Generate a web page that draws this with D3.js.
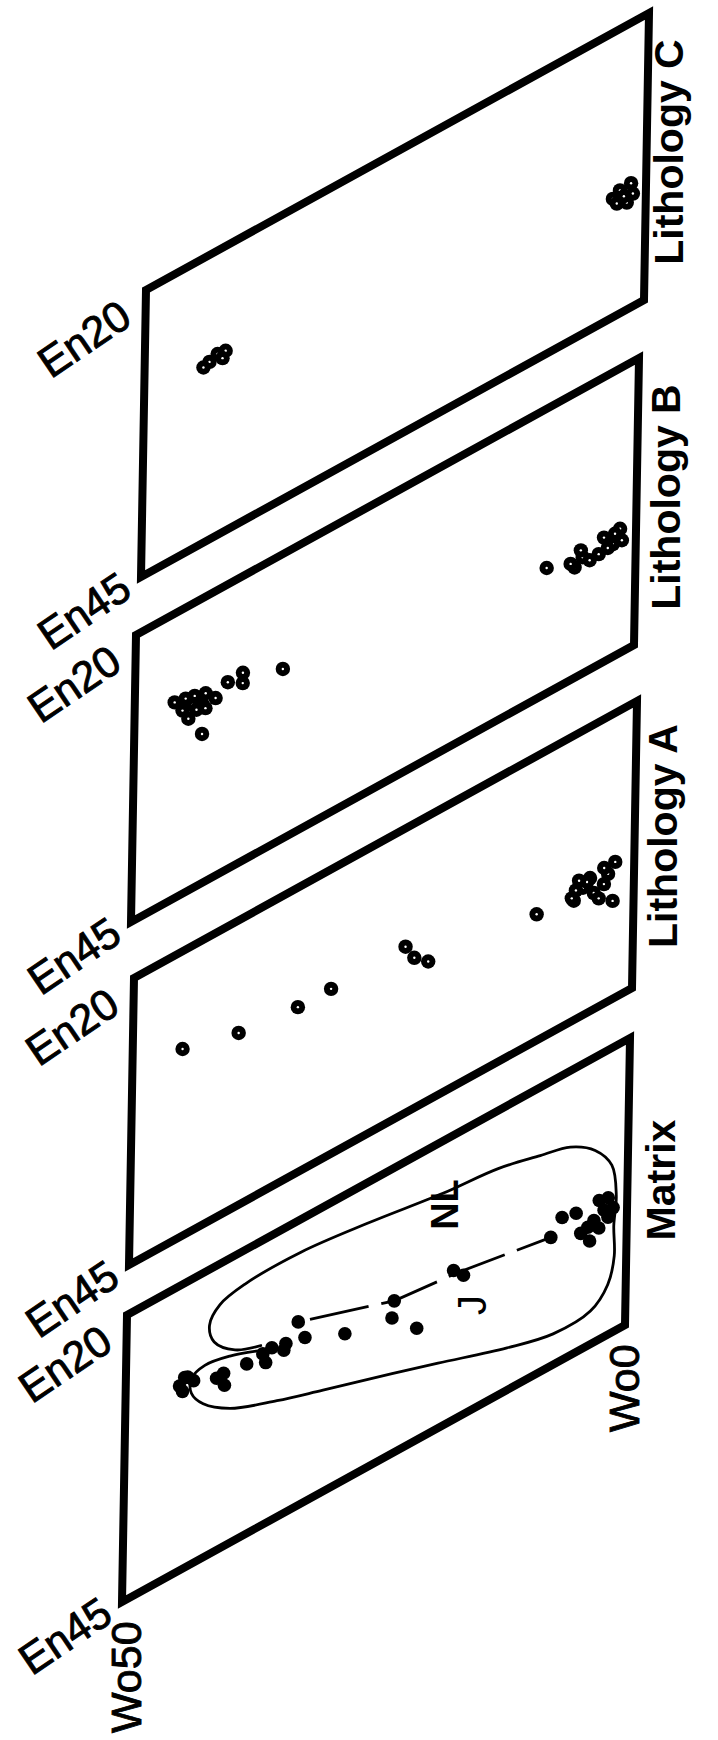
<!DOCTYPE html>
<html>
<head>
<meta charset="utf-8">
<script src="https://cdn.jsdelivr.net/npm/d3@7"></script>
<style>
  body { margin: 0; background: #fff; }
  text { font-family: "Liberation Sans", Arial, Helvetica, sans-serif; fill: #000; }
</style>
</head>
<body>
<script>
// Panel names, top to bottom
const panelNames = ["Lithology C", "Lithology B", "Lithology A", "Matrix"];

// Corner tick labels
const enTicks = ["En20", "En45"];
const woTicks = ["Wo50", "Wo0"];

// Pyroxene compositions, as [Wo, En]
const lithCPoints = [
  [41.9, 29.2], [42.7, 29.1], [43.5, 29.4], [44.1, 29.6], [42.2, 29.7],
  [1.5, 34.1], [2.6, 34.2], [3.3, 34.6], [1.9, 35.6], [2.9, 35.2], [1.3, 35.1], [2.2, 34.9]
];

const lithBPoints = [
  [43.2, 31.9], [35.2, 30.1], [39.2, 28.5], [39.2, 29.4], [40.7, 28.6],
  [46.0, 27.8], [44.9, 28.0], [44.0, 28.2], [42.9, 28.5], [41.9, 29.4], [43.2, 29.3],
  [44.2, 28.9], [45.2, 28.9], [44.6, 29.9], [42.9, 29.8], [43.8, 29.5],
  [8.9, 34.0], [6.1, 35.3], [5.3, 34.8], [5.5, 34.1], [3.7, 35.3], [3.2, 34.1],
  [2.3, 35.1], [1.6, 34.1], [1.4, 35.2], [2.8, 35.2], [2.1, 34.3], [6.5, 34.8], [4.6, 35.4]
];

const lithAPoints = [
  [45.0, 28.6], [39.4, 29.9], [33.5, 30.5], [30.2, 30.5],
  [22.8, 30.4], [21.9, 31.8], [20.5, 32.8], [9.7, 33.9],
  [1.9, 33.1], [2.1, 36.4], [6.0, 34.5], [4.4, 33.3], [5.1, 33.8], [3.0, 34.5],
  [2.6, 33.8], [5.8, 33.7], [4.0, 34.8], [3.5, 35.5], [4.7, 33.5], [3.0, 33.1],
  [6.2, 34.2], [5.5, 33.0]
];

const matrixPoints = [
  [17.3, 31.9], [16.3, 32.8], [23.2, 31.7], [23.4, 33.1], [20.9, 35.2], [28.1, 32.2],
  [32.8, 28.9], [32.1, 30.6], [34.0, 30.2], [34.2, 30.7], [35.4, 29.9], [36.3, 30.0],
  [36.0, 30.9], [37.9, 30.1], [40.2, 29.8], [40.9, 29.9], [40.1, 30.9], [44.1, 28.3],
  [44.6, 28.8], [43.2, 29.0], [43.8, 28.4], [44.3, 29.4],
  [7.6, 33.7], [6.5, 32.5], [5.1, 32.8], [2.8, 32.8], [1.9, 33.0], [2.3, 33.9],
  [3.3, 34.3], [4.6, 34.8], [3.7, 35.9], [2.8, 35.2], [1.9, 34.7], [1.4, 34.1], [3.9, 34.6]
];

// Trend line through the matrix analyses
const matrixTrend = [[32.8, 28.9], [23.2, 31.7], [16.8, 32.3], [7.6, 33.7]];

// Outline of the matrix field
const matrixField = [
  [36.8, 29.5], [39.6, 28.6], [42.1, 28.2], [43.4, 28.7], [43.4, 30.0], [42.2, 31.5],
  [39.5, 33.2], [34.8, 34.8], [30.2, 36.1], [23.3, 38.0], [18.7, 39.3], [11.8, 41.3],
  [7.2, 42.3], [3.5, 42.1], [1.8, 40.6], [1.2, 38.4], [1.3, 35.7], [1.1, 33.2],
  [1.6, 30.3], [3.3, 28.2], [5.8, 26.7], [8.8, 26.0], [13.0, 25.1], [18.5, 24.6],
  [25.9, 23.6], [32.7, 22.9], [38.2, 23.0], [40.7, 23.6], [41.7, 24.9], [41.2, 26.6],
  [39.1, 28.3], [36.4, 29.2]
];

// Field labels inside the matrix panel, as [Wo, En]
const matrixLabels = [
  { text: "NL", wo: 17.0, en: 26.3, bold: true },
  { text: "J", wo: 14.0, en: 36.5, bold: false }
];

// Layout: top-left corner (Wo50, En20) of each panel and its title position
const layout = [
  { x0: 146, y0: 290, titleX: 683, titleY: 152 },
  { x0: 136, y0: 635, titleX: 680, titleY: 497 },
  { x0: 134, y0: 978, titleX: 677, titleY: 836 },
  { x0: 127, y0: 1315, titleX: 675, titleY: 1180 }
];
const ex = [503, -277];  // Wo50 -> Wo0
const ey = [-5, 287];    // En20 -> En45

const width = 718, height = 1740;

const woScale = d3.scaleLinear().domain([50, 0]).range([0, 1]);
const enScale = d3.scaleLinear().domain([20, 45]).range([0, 1]);

function project(p, wo, en) {
  const u = woScale(wo), v = enScale(en);
  return [p.x0 + u * ex[0] + v * ey[0], p.y0 + u * ex[1] + v * ey[1]];
}

const svg = d3.select("body").append("svg")
  .attr("width", width)
  .attr("height", height);

const pointSets = [lithCPoints, lithBPoints, lithAPoints, matrixPoints];

// thin outline on tick text so it reads as heavy as the scanned figure
function tickText(sel, size) {
  return sel.attr("font-size", size)
    .attr("stroke", "#000")
    .attr("stroke-width", 0.9);
}

panelNames.forEach((name, i) => {
  const p = layout[i];
  const g = svg.append("g");
  const isMatrix = name === "Matrix";

  // Frame
  const corners = [[50, 20], [0, 20], [0, 45], [50, 45]].map(c => project(p, c[0], c[1]));
  g.append("path")
    .attr("d", d3.line()(corners) + "Z")
    .attr("fill", "none")
    .attr("stroke", "#000")
    .attr("stroke-width", 8)
    .attr("stroke-linejoin", "miter");

  if (isMatrix) {
    g.append("path")
      .attr("d", d3.line().curve(d3.curveCatmullRom.alpha(0.5))(matrixField.map(d => project(p, d[0], d[1]))))
      .attr("fill", "none")
      .attr("stroke", "#000")
      .attr("stroke-width", 2.8);

    g.append("path")
      .attr("d", d3.line()(matrixTrend.map(d => project(p, d[0], d[1]))))
      .attr("fill", "none")
      .attr("stroke", "#000")
      .attr("stroke-width", 2.8)
      .attr("stroke-dasharray", "60,13")
      .attr("stroke-dashoffset", -12);

    g.selectAll("circle.dot")
      .data(matrixPoints)
      .enter().append("circle")
      .attr("class", "dot")
      .attr("cx", d => project(p, d[0], d[1])[0])
      .attr("cy", d => project(p, d[0], d[1])[1])
      .attr("r", 6.8)
      .attr("fill", "#000");

    matrixLabels.forEach(l => {
      const [x, y] = project(p, l.wo, l.en);
      g.append("text")
        .attr("transform", `translate(${x},${y}) rotate(-90)`)
        .attr("text-anchor", "middle")
        .attr("font-size", l.bold ? 38 : 40)
        .attr("font-weight", l.bold ? "bold" : "normal")
        .text(l.text);
    });
  } else {
    const pts = g.selectAll("g.pt")
      .data(pointSets[i])
      .enter().append("g")
      .attr("class", "pt")
      .attr("transform", d => `translate(${project(p, d[0], d[1])})`);
    pts.append("circle").attr("r", 7.2).attr("fill", "#000");
    pts.append("circle").attr("r", 1.2).attr("fill", "#fff");
  }

  // En ticks at the left corners
  const tl = project(p, 50, 20), bl = project(p, 50, 45);
  tickText(g.append("text"), 43)
    .attr("transform", `translate(${tl[0] - 12},${tl[1] + 33}) rotate(-34)`)
    .attr("text-anchor", "end")
    .text(enTicks[0]);
  tickText(g.append("text"), 43)
    .attr("transform", `translate(${bl[0] - 7},${bl[1] + 18}) rotate(-34)`)
    .attr("text-anchor", "end")
    .text(enTicks[1]);

  // Wo ticks on the bottom panel only
  if (isMatrix) {
    const br = project(p, 0, 45);
    tickText(g.append("text"), 43)
      .attr("transform", `translate(${bl[0] + 19},${bl[1] + 131}) rotate(-90)`)
      .attr("text-anchor", "start")
      .text(woTicks[0]);
    tickText(g.append("text"), 43)
      .attr("transform", `translate(${br[0] + 14},${br[1] + 107}) rotate(-90)`)
      .attr("text-anchor", "start")
      .text(woTicks[1]);
  }

  // Panel title
  g.append("text")
    .attr("transform", `translate(${p.titleX},${p.titleY}) rotate(-90)`)
    .attr("text-anchor", "middle")
    .attr("font-size", 41)
    .attr("font-weight", "bold")
    .text(name);
});
</script>
</body>
</html>
